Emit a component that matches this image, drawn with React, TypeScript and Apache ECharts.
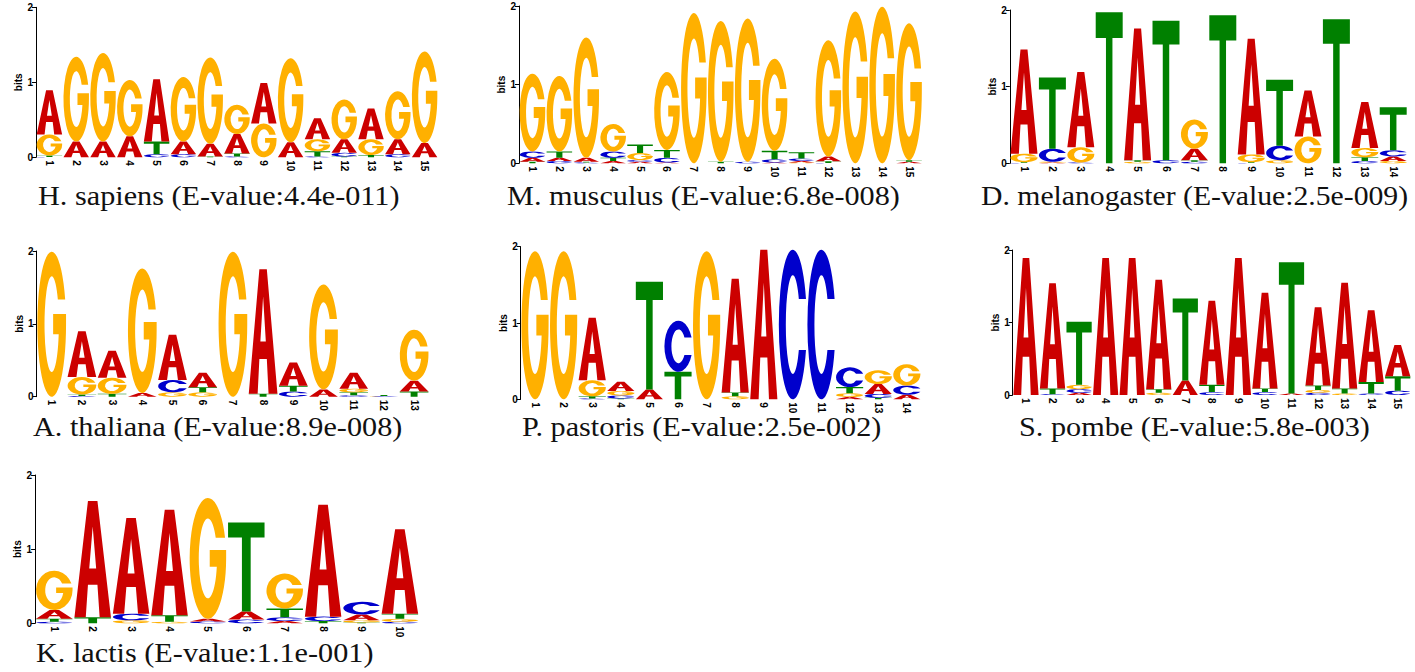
import React, { useEffect, useRef } from "react";
import * as echarts from "echarts";

// Letter order: A, C, G, T
const LETTERS = ["A", "C", "G", "T"];
const COLORS = ["#cc0000", "#0000cc", "#ffb000", "#008000"];

// H. sapiens (E-value:4.4e-011)
const hsA = [0.59, 0.21, 0.21, 0.28, 0.83, 0.17, 0.17, 0.26, 0.54, 0.2, 0.28, 0.18, 0.41, 0.2, 0.19];
const hsC = [0.005, 0, 0, 0, 0.04, 0.04, 0, 0.01, 0, 0, 0.01, 0.05, 0, 0.04, 0];
const hsG = [0.28, 1.13, 1.18, 0.75, 0, 0.86, 1.15, 0.39, 0.45, 1.12, 0.16, 0.53, 0.21, 0.64, 1.22];
const hsT = [0.02, 0, 0, 0, 0.17, 0, 0.01, 0.04, 0, 0, 0.07, 0.01, 0.03, 0, 0];

// M. musculus (E-value:6.8e-008)
const mmA = [0.05, 0.04, 0.05, 0.03, 0.02, 0.01, 0, 0, 0, 0.01, 0.02, 0.06, 0, 0, 0.02];
const mmC = [0.08, 0.03, 0.01, 0.08, 0.02, 0.06, 0, 0, 0.02, 0.04, 0.03, 0.005, 0, 0, 0];
const mmG = [0.99, 0.96, 1.53, 0.35, 0.09, 0.99, 1.91, 1.79, 1.82, 1.17, 0.01, 1.48, 1.93, 1.99, 1.74];
const mmT = [0.02, 0.08, 0.01, 0.04, 0.11, 0.1, 0, 0.02, 0, 0.11, 0.08, 0.02, 0, 0, 0.02];

// D. melanogaster (E-value:2.5e-009)
const dmA = [1.36, 0.01, 0.98, 0, 1.72, 0, 0.15, 0, 1.51, 0, 0.6, 0, 0.6, 0.06];
const dmC = [0.005, 0.17, 0.01, 0, 0, 0.04, 0.02, 0, 0.005, 0.19, 0, 0, 0.03, 0.08];
const dmG = [0.11, 0.01, 0.2, 0, 0.02, 0, 0.38, 0, 0.1, 0.04, 0.35, 0, 0.12, 0.03];
const dmT = [0.01, 0.93, 0, 1.97, 0.02, 1.82, 0.02, 1.93, 0.01, 0.86, 0, 1.88, 0.05, 0.56];

// A. thaliana (E-value:8.9e-008)
const atA = [0, 0.63, 0.37, 0.05, 0.62, 0.2, 0, 1.71, 0.32, 0.1, 0.22, 0, 0.15];
const atC = [0, 0.01, 0, 0, 0.17, 0, 0, 0, 0.07, 0, 0.02, 0.005, 0];
const atG = [1.99, 0.24, 0.22, 1.71, 0.06, 0.06, 1.99, 0, 0, 1.44, 0.05, 0.005, 0.7];
const atT = [0, 0.02, 0.04, 0, 0, 0.07, 0, 0.04, 0.08, 0, 0.04, 0.015, 0.07];

// P. pastoris (E-value:2.5e-002)
const ppA = [0, 0, 0.82, 0.12, 0.13, 0, 0, 1.49, 1.96, 0, 0, 0.03, 0.13, 0.06];
const ppC = [0, 0, 0.01, 0.04, 0, 0.67, 0, 0, 0, 1.96, 1.96, 0.26, 0.05, 0.12];
const ppG = [1.94, 1.94, 0.21, 0.06, 0, 0, 1.94, 0.04, 0, 0, 0, 0.05, 0.18, 0.28];
const ppT = [0, 0, 0.03, 0.01, 1.41, 0.36, 0, 0.05, 0, 0, 0, 0.08, 0.02, 0];

// S. pombe (E-value:5.8e-003)
const spA = [1.89, 1.45, 0.03, 1.89, 1.89, 1.51, 0.2, 1.16, 1.89, 1.32, 0.02, 1.08, 1.46, 0.99, 0.43];
const spC = [0, 0.01, 0.05, 0, 0, 0, 0, 0.04, 0, 0.04, 0, 0.03, 0, 0.02, 0.06];
const spG = [0, 0, 0.06, 0, 0, 0.03, 0, 0, 0, 0, 0, 0.04, 0.02, 0, 0];
const spT = [0, 0.08, 0.87, 0, 0, 0.05, 1.13, 0.1, 0, 0.05, 1.81, 0.06, 0.07, 0.16, 0.2];

// K. lactis (E-value:1.1e-001)
const klA = [0.12, 1.57, 1.29, 1.42, 0.035, 0.11, 0.03, 1.51, 0.08, 1.14];
const klC = [0.02, 0, 0.09, 0, 0.025, 0.05, 0.05, 0.06, 0.17, 0.02];
const klG = [0.53, 0, 0.04, 0.02, 1.63, 0, 0.47, 0, 0.03, 0.04];
const klT = [0.04, 0.08, 0, 0.09, 0, 1.2, 0.12, 0.03, 0.01, 0.07];

const TITLES = [
  "H. sapiens (E-value:4.4e-011)",
  "M. musculus (E-value:6.8e-008)",
  "D. melanogaster (E-value:2.5e-009)",
  "A. thaliana (E-value:8.9e-008)",
  "P. pastoris (E-value:2.5e-002)",
  "S. pombe (E-value:5.8e-003)",
  "K. lactis (E-value:1.1e-001)",
];

const MATRICES = [
  [hsA, hsC, hsG, hsT],
  [mmA, mmC, mmG, mmT],
  [dmA, dmC, dmG, dmT],
  [atA, atC, atG, atT],
  [ppA, ppC, ppG, ppT],
  [spA, spC, spG, spT],
  [klA, klC, klG, klT],
];

// Layout of each panel (pixels)
const LAYOUT = [
  { left: 36, top: 7.3, width: 402, height: 150, tx: 38, ty: 196, sx: 1.12 },
  { left: 519, top: 6, width: 403.5, height: 157.3, tx: 507, ty: 196, sx: 1.12 },
  { left: 1009.8, top: 10, width: 397.6, height: 153.3, tx: 981, ty: 196, sx: 1.1 },
  { left: 36.6, top: 251, width: 392.6, height: 145.7, tx: 33, ty: 427, sx: 1.12 },
  { left: 520.7, top: 246.7, width: 400.4, height: 152.6, tx: 522, ty: 427, sx: 1.12 },
  { left: 1012.7, top: 250, width: 398.3, height: 145, tx: 1019, ty: 427, sx: 1.12 },
  { left: 35.1, top: 475, width: 384, height: 148.3, tx: 36, ty: 653, sx: 1.12 },
];

// Glyph outlines in a 100x100 box
const GLYPHS = [
  // A
  "M0,100 L37,0 L63,0 L100,100 L69,100 L63,72 L37,72 L31,100 Z M50,22 L40.5,58 L59.5,58 Z",
  // C
  "M97,33 A50,50 0 1 0 97,67 L71.4,67 A25,33 0 1 1 71.4,33 Z",
  // G
  "M97,33 A50,50 0 1 0 100,50 L100,43 L55,43 L55,57 L74.4,57 A25,33 0 1 1 71.4,33 Z",
  // T
  "M0,0 L100,0 L100,17 L62,17 L62,100 L38,100 L38,17 L0,17 Z",
];

function buildStacks(mat: number[][]) {
  const n = mat[0].length;
  const out: number[][] = [];
  for (let i = 0; i < n; i++) {
    const items = [0, 1, 2, 3]
      .map((li) => ({ li, h: mat[li][i] }))
      .filter((d) => d.h > 0)
      .sort((a, b) => a.h - b.h);
    let y = 0;
    for (const it of items) {
      out.push([i, y, y + it.h, it.li]);
      y += it.h;
    }
  }
  return out;
}

const FONT = "Liberation Sans";

export default function App() {
  const ref = useRef<HTMLDivElement>(null);
  useEffect(() => {
    if (!ref.current) return;
    const chart = echarts.init(ref.current, null, { renderer: "svg" });
    const grids: any[] = [];
    const xAxes: any[] = [];
    const yAxes: any[] = [];
    const series: any[] = [];
    const graphics: any[] = [];
    MATRICES.forEach((mat, k) => {
      const L = LAYOUT[k];
      const n = mat[0].length;
      grids.push({ left: L.left, top: L.top, width: L.width, height: L.height, containLabel: false });
      xAxes.push({
        type: "category",
        gridIndex: k,
        data: Array.from({ length: n }, (_, i) => String(i + 1)),
        axisLine: { show: false },
        axisTick: { show: false },
        axisLabel: { rotate: -90, interval: 0, fontSize: 10, fontWeight: "bold", color: "#000", margin: 3, fontFamily: FONT },
      });
      yAxes.push({
        type: "value",
        gridIndex: k,
        min: 0,
        max: 2,
        interval: 1,
        name: "bits",
        nameLocation: "middle",
        nameGap: 12,
        nameTextStyle: { fontSize: 10, fontWeight: "bold", color: "#000", fontFamily: FONT },
        axisLine: { show: true, lineStyle: { color: "#000", width: 1 } },
        axisTick: { show: true, length: 4, lineStyle: { color: "#000" } },
        axisLabel: { fontSize: 10, fontWeight: "bold", color: "#000", margin: 3, fontFamily: FONT },
        splitLine: { show: false },
      });
      series.push({
        type: "custom",
        xAxisIndex: k,
        yAxisIndex: k,
        data: buildStacks(mat),
        encode: { x: 0, y: [1, 2] },
        renderItem: (params: any, api: any) => {
          const x = api.value(0);
          const y0 = api.value(1);
          const y1 = api.value(2);
          const li = api.value(3);
          const pTop = api.coord([x, y1]);
          const pBot = api.coord([x, y0]);
          const bw = api.size([1, 0])[0] * 0.95;
          const h = pBot[1] - pTop[1];
          return {
            type: "path",
            shape: { pathData: GLYPHS[li], x: pTop[0] - bw / 2, y: pTop[1], width: bw, height: h, layout: "cover" },
            style: { fill: COLORS[li] },
          };
        },
      });
      graphics.push({
        type: "text",
        x: L.tx,
        y: L.ty,
        scaleX: L.sx,
        style: {
          text: TITLES[k],
          fontSize: 27,
          fontFamily: "Liberation Serif",
          fill: "#111",
          align: "left",
          verticalAlign: "middle",
        },
      });
    });
    chart.setOption({
      animation: false,
      backgroundColor: "#fff",
      grid: grids,
      xAxis: xAxes,
      yAxis: yAxes,
      series,
      graphic: graphics,
    });
    return () => chart.dispose();
  }, []);
  return (
    <div
      ref={ref}
      style={{ position: "absolute", left: 0, top: 0, width: 1415, height: 672, background: "#fff" }}
    />
  );
}
